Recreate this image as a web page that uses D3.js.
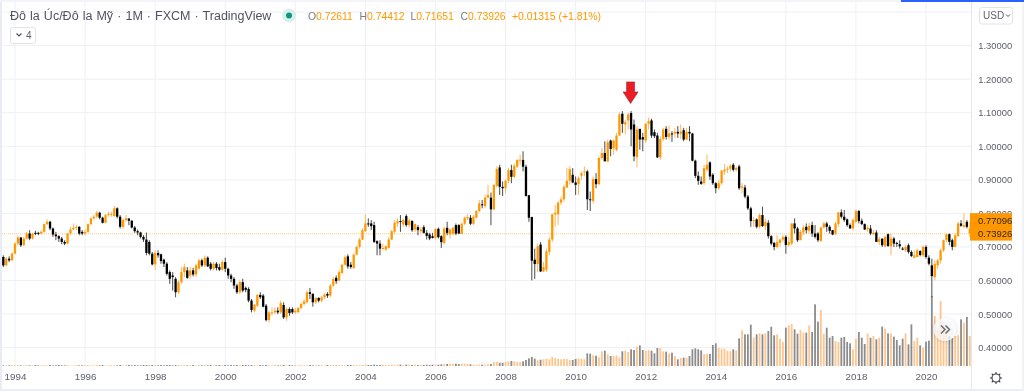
<!DOCTYPE html>
<html>
<head>
<meta charset="utf-8">
<style>
    html, body { margin: 0; padding: 0; background: #fff; overflow: hidden; }
    svg { display: block; font-family: "Liberation Sans", Arial, sans-serif; filter: blur(0.35px); }
</style>
<script src="https://cdnjs.cloudflare.com/ajax/libs/d3/7.8.5/d3.min.js"></script>
</head>
<body>
<svg id="chart" width="1024" height="391"></svg>
<script>
// monthly candles, Sep 1993 to Apr 2021, one row per calendar year
const firstMonth = new Date(1993, 8, 1);
const opens = [
    .67,.645,.665,.66,
    .68,.71,.728,.705,.725,.74,.725,.742,.742,.74,.745,.768,
    .775,.755,.737,.732,.725,.715,.71,.74,.752,.757,.76,.745,
    .74,.745,.768,.785,.79,.802,.787,.772,.795,.795,.792,.815,
    .79,.76,.78,.785,.778,.758,.747,.743,.73,.722,.715,.68,
    .648,.682,.678,.662,.65,.625,.615,.605,.565,.595,.625,.63,
    .615,.63,.618,.635,.66,.645,.668,.65,.635,.65,.64,.632,
    .655,.635,.615,.605,.585,.565,.595,.578,.575,.54,.51,.525,
    .557,.555,.525,.482,.505,.505,.51,.505,.527,.49,.515,.515,
    .505,.505,.518,.53,.535,.565,.56,.535,.548,.54,.55,.56,
    .555,.585,.608,.6,.622,.647,.672,.647,.637,.677,.70,.722,
    .747,.77,.77,.765,.717,.71,.695,.692,.697,.722,.745,.77,
    .777,.767,.792,.765,.777,.752,.759,.747,.759,.742,.737,.732,
    .727,.754,.732,.712,.757,.737,.739,.765,.765,.739,.769,.785,
    .787,.769,.787,.807,.827,.822,.847,.847,.812,.882,.937,.879,
    .875,.897,.929,.909,.939,.957,.959,.939,.854,.789,.662,.649,
    .707,.627,.632,.685,.722,.797,.797,.832,.842,.877,.897,.915,
    .892,.887,.912,.922,.925,.842,.837,.902,.887,.965,.98,.954,
    1.017,.994,.989,1.032,1.097,1.065,1.077,1.099,1.065,.967,1.052,1.027,
    1.017,1.067,1.077,1.042,1.032,.967,1.022,1.052,1.028,1.038,1.038,1.043,
    1.037,1.048,1.02,1.043,1.038,.957,.912,.895,.89,.93,.952,.915,
    .89,.875,.89,.925,.93,.933,.945,.93,.94,.876,.877,.85,
    .815,.777,.782,.76,.795,.762,.772,.732,.712,.70,.712,.722,
    .73,.706,.71,.77,.755,.72,.743,.76,.748,.765,.74,.74,
    .718,.758,.77,.76,.75,.74,.768,.803,.79,.782,.765,.755,
    .775,.807,.778,.768,.752,.755,.738,.743,.715,.725,.702,.738,
    .702,.725,.712,.708,.695,.69,.705,.685,.668,.67,.688,.675,
    .70,.668,.645,.61,.645,.66,.69,.72,.738,.72,.70,.732,
    .77,.76,.775,.74
];
const closes = [
    .645,.665,.66,.68,
    .71,.728,.705,.725,.74,.725,.74,.74,.74,.745,.768,.775,
    .755,.737,.732,.725,.715,.71,.74,.752,.757,.76,.74,.74,
    .745,.768,.785,.79,.802,.787,.772,.795,.798,.798,.815,.79,
    .76,.78,.785,.778,.758,.747,.743,.73,.722,.682,.68,.648,
    .682,.675,.658,.65,.62,.605,.61,.565,.595,.625,.64,.608,
    .63,.618,.645,.66,.645,.668,.642,.635,.65,.637,.632,.655,
    .635,.615,.605,.585,.565,.595,.57,.572,.54,.512,.528,.557,
    .55,.522,.482,.505,.505,.51,.505,.533,.49,.515,.503,.505,
    .51,.518,.53,.538,.565,.56,.535,.548,.54,.55,.558,.555,
    .585,.605,.598,.625,.647,.669,.642,.64,.677,.70,.722,.75,
    .77,.768,.762,.715,.71,.695,.697,.702,.722,.747,.772,.777,
    .775,.78,.765,.779,.75,.768,.75,.752,.742,.733,.725,.727,
    .754,.729,.714,.755,.742,.752,.757,.74,.74,.769,.787,.789,
    .769,.79,.807,.83,.825,.847,.855,.812,.885,.932,.879,.875,
    .897,.929,.909,.942,.959,.96,.939,.852,.787,.659,.649,.702,
    .627,.64,.687,.722,.797,.802,.832,.842,.879,.897,.932,.892,
    .885,.905,.92,.925,.842,.84,.902,.887,.965,.98,.955,1.012,
    .992,1.017,1.032,1.095,1.067,1.072,1.095,1.05,.97,1.05,1.02,1.02,
    1.067,1.075,1.032,1.03,.967,1.022,1.05,1.028,1.038,1.035,1.043,1.038,
    1.044,1.02,1.043,1.038,.957,.912,.897,.888,.935,.945,.91,.89,
    .875,.89,.927,.93,.933,.942,.93,.935,.875,.88,.85,.815,
    .777,.78,.76,.795,.762,.775,.732,.71,.70,.715,.722,.729,
    .706,.715,.77,.755,.72,.745,.758,.75,.763,.74,.73,.72,
    .758,.77,.76,.748,.737,.77,.803,.79,.78,.765,.755,.78,
    .807,.777,.768,.752,.757,.74,.742,.715,.723,.705,.73,.703,
    .725,.71,.71,.702,.692,.70,.685,.673,.675,.69,.676,.70,
    .67,.65,.613,.65,.66,.69,.72,.738,.715,.70,.735,.77,
    .763,.765,.76,.755
];
const highs = [
    .675,.67,.672,.685,
    .715,.735,.73,.73,.745,.75,.742,.748,.745,.75,.77,.782,
    .778,.758,.745,.735,.73,.72,.742,.76,.77,.765,.762,.75,
    .752,.77,.788,.795,.808,.805,.79,.798,.805,.805,.822,.818,
    .795,.785,.795,.782,.78,.762,.752,.745,.735,.743,.72,.685,
    .69,.69,.68,.665,.655,.63,.625,.61,.60,.64,.65,.64,
    .64,.638,.65,.665,.665,.675,.672,.655,.655,.655,.65,.66,
    .668,.638,.62,.61,.59,.60,.605,.582,.58,.545,.53,.56,
    .565,.56,.53,.51,.52,.52,.52,.54,.535,.52,.52,.52,
    .518,.522,.535,.545,.57,.578,.562,.55,.55,.555,.562,.565,
    .59,.61,.615,.632,.65,.675,.678,.655,.68,.705,.727,.755,
    .797,.785,.78,.775,.72,.72,.71,.705,.73,.75,.78,.785,
    .795,.785,.797,.785,.78,.77,.765,.76,.765,.75,.742,.742,
    .755,.758,.735,.76,.775,.755,.76,.77,.768,.772,.79,.797,
    .795,.795,.81,.84,.84,.855,.885,.862,.887,.94,.945,.895,
    .90,.935,.945,.948,.962,.975,.985,.945,.855,.79,.695,.71,
    .715,.655,.695,.73,.80,.825,.837,.85,.885,.935,.94,.935,
    .91,.91,.925,.94,.93,.865,.91,.92,.97,.995,1.015,1.02,
    1.02,1.02,1.04,1.10,1.105,1.078,1.10,1.105,1.08,1.06,1.05,1.04,
    1.07,1.085,1.082,1.05,1.04,1.03,1.055,1.06,1.062,1.045,1.055,1.06,
    1.065,1.055,1.055,1.06,1.04,.96,.925,.91,.945,.975,.955,.92,
    .893,.90,.93,.947,.94,.947,.95,.94,.945,.89,.885,.855,
    .82,.79,.785,.80,.82,.785,.78,.735,.715,.735,.725,.735,
    .735,.73,.77,.785,.76,.75,.765,.77,.772,.775,.765,.745,
    .76,.775,.775,.765,.75,.775,.805,.812,.81,.785,.77,.785,
    .812,.81,.785,.77,.765,.765,.75,.75,.73,.72,.733,.74,
    .74,.73,.715,.72,.70,.705,.71,.69,.69,.695,.69,.705,
    .705,.675,.665,.66,.665,.695,.722,.74,.74,.725,.74,.775,
    .78,.80,.78,.775
];
const lows = [
    .64,.642,.655,.66,
    .678,.705,.70,.703,.722,.72,.722,.735,.735,.737,.742,.765,
    .75,.73,.72,.715,.708,.705,.708,.735,.75,.75,.735,.735,
    .735,.742,.765,.78,.785,.782,.77,.77,.79,.79,.79,.785,
    .755,.755,.775,.765,.755,.742,.735,.725,.715,.675,.675,.645,
    .632,.668,.65,.64,.615,.59,.57,.55,.56,.59,.61,.605,
    .605,.612,.61,.632,.64,.64,.64,.63,.63,.63,.628,.63,
    .625,.605,.595,.575,.56,.56,.565,.565,.535,.505,.505,.52,
    .545,.52,.478,.475,.495,.50,.50,.50,.485,.48,.495,.50,
    .50,.505,.515,.525,.532,.545,.522,.53,.535,.535,.545,.548,
    .55,.58,.59,.597,.62,.645,.635,.635,.635,.675,.695,.72,
    .745,.76,.75,.712,.675,.675,.69,.688,.695,.72,.74,.76,
    .745,.76,.76,.758,.745,.745,.735,.74,.74,.722,.72,.725,
    .722,.725,.697,.708,.735,.725,.735,.735,.738,.738,.765,.78,
    .765,.765,.785,.803,.815,.815,.845,.765,.81,.878,.855,.852,
    .86,.89,.89,.905,.935,.945,.925,.85,.775,.60,.605,.625,
    .625,.625,.625,.675,.715,.76,.765,.825,.835,.875,.885,.89,
    .855,.855,.90,.91,.81,.807,.83,.875,.885,.96,.96,.955,
    .97,.975,.985,1.03,1.04,1.035,1.05,1.00,.955,.937,.99,.985,
    1.01,1.05,1.025,1.025,.965,.96,1.015,1.02,1.02,1.013,1.025,1.025,
    1.022,1.015,1.02,1.015,.955,.905,.885,.885,.885,.925,.90,.885,
    .86,.87,.885,.915,.92,.925,.925,.925,.87,.86,.845,.81,
    .76,.76,.755,.755,.76,.75,.725,.705,.69,.695,.70,.715,
    .68,.70,.705,.74,.715,.72,.735,.74,.74,.73,.725,.715,
    .715,.755,.745,.74,.735,.735,.76,.785,.775,.76,.755,.75,
    .77,.77,.765,.75,.745,.735,.735,.715,.705,.70,.70,.70,
    .675,.70,.70,.695,.69,.685,.68,.67,.665,.67,.672,.67,
    .665,.645,.55,.60,.635,.65,.685,.715,.705,.69,.70,.73,
    .76,.755,.755,.73
];
const volumes = [
    2,2,2,3,
    2,3,2,2,3,2,2,3,2,2,3,2,
    3,2,2,3,2,2,3,2,2,3,2,2,
    2,3,2,2,3,2,3,2,2,3,2,2,
    3,2,2,3,2,3,2,2,3,3,2,3,
    3,2,3,2,3,3,2,3,3,2,3,2,
    2,3,2,3,2,3,2,3,2,2,3,2,
    3,2,3,2,3,2,3,3,2,3,3,2,
    3,2,3,3,2,3,2,3,3,2,3,2,
    3,2,3,2,3,3,2,3,2,3,2,3,
    3,3,2,3,3,2,3,3,3,2,3,3,
    4,3,3,4,3,3,4,3,3,4,3,4,
    4,3,4,4,3,4,3,4,3,4,3,4,
    4,4,5,6,6,7,7,7,6,7,7,6,
    5,4,4,4,4,4,5,6,12,13,10,10,
    13,14,15,14,12,12,14,18,23,27,22,17,
    19,20,22,20,28,24,22,20,21,21,18,18,
    21,23,22,20,38,37,32,31,26,44,46,35,
    30,30,32,26,44,46,42,50,48,58,62,48,
    46,48,46,38,54,54,44,43,38,40,30,20,
    24,25,25,30,50,53,50,47,36,36,36,63,
    68,54,52,52,46,44,50,47,83,107,95,95,
    124,85,95,98,95,98,105,118,92,95,82,72,
    115,122,126,110,97,108,100,100,122,102,185,133,
    168,97,115,85,90,75,72,85,87,72,68,50,
    82,102,85,66,98,85,90,80,85,118,112,98,
    98,88,78,62,82,98,65,125,75,85,62,55,
    73,76,210,150,110,195,130,120,90,85,90,92,
    140,130,147,90
];
const priceTicks = [0.4, 0.5, 0.6, 0.7, 0.8, 0.9, 1.0, 1.1, 1.2, 1.3, 1.4];
const priceLabels = [0.4, 0.5, 0.6, 0.7, 0.8, 0.9, 1.0, 1.1, 1.2, 1.3];
const yearTicks = ['1994', '1996', '1998', '2000', '2002', '2004', '2006', '2008', '2010', '2012', '2014', '2016', '2018', '2020'];
const legendLabels = ['O', 'H', 'L', 'C'];
const legendValues = ['0.72611', '0.74412', '0.71651', '0.73926'];
const legendChange = '+0.01315 (+1.81%)';
const titleText = 'Đô la Úc/Đô la Mỹ · 1M · FXCM · TradingView';
const lastClose = 0.73926;
const prevTag = 0.77096;
const arrowMonth = new Date(2011, 7, 1);
const arrowPrice = 1.15;

const width = 1024;
const height = 391;
const plotRight = 971;
const plotBottom = 367;
const volumeBase = 366;

const orange = '#ff9800';
const textGrey = '#5d606b';

const months = d3.timeMonth.range(firstMonth, d3.timeMonth.offset(firstMonth, closes.length));
const candles = months.map((date, i) => ({
    date,
    open: opens[i],
    close: closes[i],
    high: highs[i],
    low: lows[i],
    volume: volumes[i],
    up: closes[i] >= opens[i],
}));

// one month is one equal step on the chart, so scale on the month count
const monthIndex = (d) => d3.timeMonth.count(new Date(1994, 0, 1), d);
const xScale = d3.scaleLinear().domain([0, 312]).range([15, 926]);
const yScale = d3.scaleLinear().domain([0.4, 1.3]).range([347.6, 45.6]);
const volumeScale = d3.scaleLinear().domain([0, 240]).range([volumeBase, volumeBase - 80]);

const svg = d3.select('#chart');
svg.append('rect').attr('width', width).attr('height', height).attr('fill', '#fff');

svg.append('defs').append('clipPath').attr('id', 'plot')
    .append('rect')
    .attr('x', 2)
    .attr('y', 0)
    .attr('width', plotRight - 2)
    .attr('height', plotBottom);

// grid
const grid = svg.append('g').attr('stroke', '#eef0f6').attr('stroke-width', 1);
grid.selectAll('.hgrid')
    .data(priceTicks)
    .enter()
    .append('line')
    .attr('class', 'hgrid')
    .attr('x1', 2)
    .attr('x2', plotRight)
    .attr('y1', d => yScale(d))
    .attr('y2', d => yScale(d));
grid.selectAll('.vgrid')
    .data(yearTicks)
    .enter()
    .append('line')
    .attr('class', 'vgrid')
    .attr('x1', d => xScale(monthIndex(new Date(+d, 0, 1))))
    .attr('x2', d => xScale(monthIndex(new Date(+d, 0, 1))))
    .attr('y1', 0)
    .attr('y2', plotBottom);

const plot = svg.append('g').attr('clip-path', 'url(#plot)');

// volume
plot.append('g').selectAll('rect')
    .data(candles)
    .enter()
    .append('rect')
    .attr('x', d => xScale(monthIndex(d.date)) - 0.9)
    .attr('width', 1.8)
    .attr('y', d => volumeScale(d.volume))
    .attr('height', d => volumeBase - volumeScale(d.volume))
    .attr('fill', d => (d.up ? '#ffc58c' : '#8c8c8c'));

// last price line
plot.append('line')
    .attr('x1', 2)
    .attr('x2', plotRight)
    .attr('y1', yScale(lastClose))
    .attr('y2', yScale(lastClose))
    .attr('stroke', '#ffc980')
    .attr('stroke-width', 1)
    .attr('stroke-dasharray', '1 1');

// candles
const candleGroup = plot.append('g');
candleGroup.selectAll('.wick')
    .data(candles)
    .enter()
    .append('rect')
    .attr('class', 'wick')
    .attr('x', d => xScale(monthIndex(d.date)) - 0.5)
    .attr('width', 1)
    .attr('y', d => yScale(d.high))
    .attr('height', d => yScale(d.low) - yScale(d.high))
    .attr('fill', d => (d.up ? '#ffb55a' : '#4a4a4a'));
candleGroup.selectAll('.body')
    .data(candles)
    .enter()
    .append('rect')
    .attr('class', 'body')
    .attr('x', d => xScale(monthIndex(d.date)) - 1.15)
    .attr('width', 2.3)
    .attr('y', d => yScale(Math.max(d.open, d.close)))
    .attr('height', d => Math.max(1, Math.abs(yScale(d.open) - yScale(d.close))))
    .attr('fill', d => (d.up ? orange : '#000'));

// frame and axis panels
svg.append('rect').attr('x', 0).attr('y', 0).attr('width', 2).attr('height', height).attr('fill', '#eaecf5');
svg.append('rect').attr('x', 0).attr('y', 0).attr('width', 901).attr('height', 2).attr('fill', '#f3f4fa');
svg.append('rect').attr('x', 901).attr('y', 0).attr('width', 123).attr('height', 2).attr('fill', '#2962ff');
svg.append('rect').attr('x', 0).attr('y', 389).attr('width', width).attr('height', 2).attr('fill', '#eceef6');
svg.append('rect').attr('x', 1022).attr('y', 2).attr('width', 2).attr('height', height).attr('fill', '#f1f2f8');
svg.append('line')
    .attr('x1', plotRight + 0.5)
    .attr('x2', plotRight + 0.5)
    .attr('y1', 2)
    .attr('y2', 389)
    .attr('stroke', '#e4e6ee');

// price axis
const yAxis = d3.axisRight(yScale)
    .tickValues(priceLabels)
    .tickFormat(d3.format('.5f'))
    .tickSize(0)
    .tickPadding(0);
svg.append('g')
    .attr('transform', 'translate(978.3,0)')
    .call(yAxis)
    .call(g => g.select('.domain').remove())
    .call(g => g.selectAll('text')
        .attr('font-size', 9.4)
        .attr('font-family', '"Liberation Sans", Arial, sans-serif')
        .attr('fill', textGrey));

// time axis
const xAxis = d3.axisBottom(xScale)
    .tickValues(yearTicks.map(d => monthIndex(new Date(+d, 0, 1))))
    .tickFormat((d, i) => yearTicks[i])
    .tickSize(0)
    .tickPadding(0);
svg.append('g')
    .attr('transform', 'translate(0,373)')
    .call(xAxis)
    .call(g => g.select('.domain').remove())
    .call(g => g.selectAll('text')
        .attr('font-size', 9.8)
        .attr('font-family', '"Liberation Sans", Arial, sans-serif')
        .attr('fill', textGrey));

// price tag
svg.append('rect')
    .attr('x', 970)
    .attr('y', yScale(prevTag) - 10)
    .attr('width', 42)
    .attr('height', 27.5)
    .attr('fill', orange);
svg.selectAll('.tag')
    .data([[prevTag, -2.5], [lastClose, 0]])
    .enter()
    .append('text')
    .attr('class', 'tag')
    .attr('x', 978)
    .attr('y', d => yScale(d[0]) + d[1] + 3.4)
    .attr('font-size', 9.5)
    .attr('fill', '#2f2a1c')
    .text(d => d[0].toFixed(5));

// header
svg.append('text')
    .attr('x', 10)
    .attr('y', 19.5)
    .attr('font-size', 12.5)
    .attr('word-spacing', 0.6)
    .attr('fill', '#50535e')
    .text(titleText);
svg.append('circle').attr('cx', 289).attr('cy', 15.5).attr('r', 7).attr('fill', '#d9f0ea');
svg.append('circle').attr('cx', 289).attr('cy', 15.5).attr('r', 3).attr('fill', '#089981');

const legendX = [308, 359.5, 410.5, 460.5];
const legend = svg.append('text').attr('y', 19.5).attr('font-size', 10.4);
legendLabels.forEach((label, i) => {
    legend.append('tspan').attr('x', legendX[i]).attr('fill', '#787b86').text(label);
    legend.append('tspan').attr('fill', orange).text(legendValues[i]);
});
legend.append('tspan').attr('x', 512).attr('fill', orange).text(legendChange);

// collapse button
svg.append('rect')
    .attr('x', 10.5)
    .attr('y', 27.5)
    .attr('width', 25)
    .attr('height', 16)
    .attr('rx', 2)
    .attr('fill', '#fff')
    .attr('stroke', '#e0e3eb');
svg.append('path')
    .attr('d', 'M16.5 33.5l2.5 2.5 2.5-2.5')
    .attr('fill', 'none')
    .attr('stroke', '#50535e')
    .attr('stroke-width', 1.2);
svg.append('text')
    .attr('x', 26)
    .attr('y', 39)
    .attr('font-size', 10)
    .attr('fill', textGrey)
    .text('4');

// currency button
svg.append('rect')
    .attr('x', 979.5)
    .attr('y', 7.5)
    .attr('width', 33)
    .attr('height', 16.5)
    .attr('rx', 2)
    .attr('fill', '#fff')
    .attr('stroke', '#e0e3eb');
svg.append('text')
    .attr('x', 983)
    .attr('y', 19)
    .attr('font-size', 10)
    .attr('fill', textGrey)
    .text('USD');
svg.append('path')
    .attr('d', 'M1006 14.5l2 2 2-2')
    .attr('fill', 'none')
    .attr('stroke', '#50535e')
    .attr('stroke-width', 1);

// red arrow over the 2011 high
svg.append('path')
    .attr('transform', `translate(${xScale(monthIndex(arrowMonth)) - 0.5},${yScale(arrowPrice)})`)
    .attr('d', 'M0 7.5L-7.5 -4H-4V-14H4V-4H7.5Z')
    .attr('fill', '#ed1c24')
    .attr('stroke', '#8f2a30')
    .attr('stroke-width', 0.6);

// scroll button
svg.append('circle')
    .attr('cx', 945)
    .attr('cy', 329.5)
    .attr('r', 11.5)
    .attr('fill', '#fff')
    .attr('fill-opacity', 0.75)
    .style('filter', 'drop-shadow(0 1px 2px rgba(0,0,0,.18))');
svg.append('path')
    .attr('d', 'M941 325.5l4 4-4 4M945.5 325.5l4 4-4 4')
    .attr('fill', 'none')
    .attr('stroke', '#6a6d78')
    .attr('stroke-width', 1.5);

// settings gear
const gear = svg.append('g').attr('transform', 'translate(996,378)').attr('stroke', '#3c3f4a');
gear.append('circle').attr('r', 4).attr('fill', 'none').attr('stroke-width', 1.1);
gear.selectAll('line')
    .data(d3.range(0, 360, 45))
    .enter()
    .append('line')
    .attr('y1', -4)
    .attr('y2', -6)
    .attr('stroke-width', 1.1)
    .attr('transform', d => `rotate(${d})`);
</script>
</body>
</html>
